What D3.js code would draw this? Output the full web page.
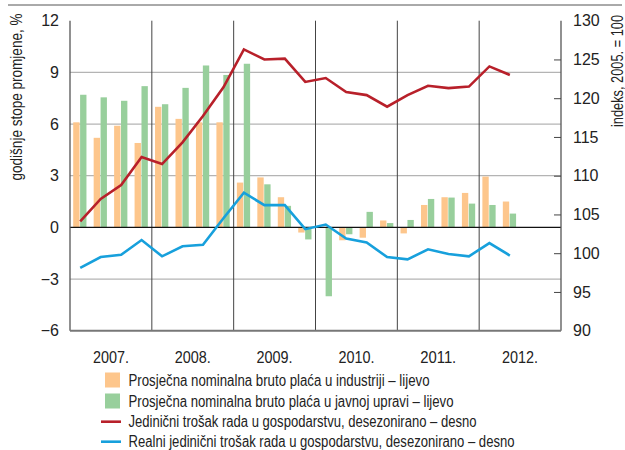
<!DOCTYPE html>
<html>
  <head>
    <meta charset="utf-8">
    <title>Plaće i jedinični trošak rada</title>
    <script src="https://d3js.org/d3.v7.min.js"></script>
    <style>
      body { margin: 0; background: #fff; }
      text { font-family: "Liberation Sans", Arial, sans-serif; fill: #222; }
    </style>
  </head>
  <body>
    <div id="chart"></div>
    <script>

      // data, quarterly 2007 Q1 - 2012 Q2
      var years = ["2007.", "2008.", "2009.", "2010.", "2011.", "2012."];
      var quarters = [];
      years.forEach(function(y) { for (var q = 1; q <= 4; q++) quarters.push(y + "Q" + q); });

      var industrija = [6.1, 5.2, 5.9, 4.9, 7.0, 6.3, 6.1, 6.1, 2.6, 2.9, 1.75, -0.3,
                        0, -0.75, -0.6, 0.4, -0.35, 1.3, 1.75, 2.0, 2.95, 1.5];
      var javnaUprava = [7.7, 7.55, 7.35, 8.2, 7.15, 8.1, 9.4, 8.85, 9.5, 2.5, 1.25, -0.7,
                         -4.0, -0.4, 0.9, 0.25, 0.43, 1.65, 1.73, 1.38, 1.3, 0.8];
      var jtr = [104.1, 107.0, 108.8, 112.4, 111.5, 114.3, 117.7, 121.4, 126.3, 125.0, 125.1, 122.1,
                 122.6, 120.8, 120.4, 118.9, 120.4, 121.6, 121.3, 121.5, 124.1, 123.0];
      var realniJtr = [98.1, 99.5, 99.8, 101.7, 99.6, 100.9, 101.1, 104.5, 107.8, 106.2, 106.2, 103.1,
                       103.7, 101.9, 101.4, 99.5, 99.2, 100.5, 99.9, 99.6, 101.3, 99.7];

      var leftTicks = [-6, -3, 0, 3, 6, 9, 12];
      var rightTicks = [90, 95, 100, 105, 110, 115, 120, 125, 130];

      var legendItems = [
        {label: "Prosječna nominalna bruto plaća u industriji – lijevo", type: "bar", color: "#fdc68c", w: 301},
        {label: "Prosječna nominalna bruto plaća u javnoj upravi – lijevo", type: "bar", color: "#98cf9c", w: 325},
        {label: "Jedinični trošak rada u gospodarstvu, desezonirano – desno", type: "line", color: "#b8202a", w: 348},
        {label: "Realni jedinični trošak rada u gospodarstvu, desezonirano – desno", type: "line", color: "#17a0dc", w: 386}
      ];

      var width = 625, height = 450;
      var margin = {top: 20.7, right: 64, bottom: 119.3, left: 70};

      var svg = d3.select("#chart")
        .append("svg")
          .attr("width", width)
          .attr("height", height);

      var x = d3.scaleBand()
        .domain(quarters)
        .range([margin.left, width - margin.right]);

      var xYear = d3.scaleBand()
        .domain(years)
        .range([margin.left, width - margin.right]);

      var sub = d3.scaleBand()
        .domain(["ind", "jav"])
        .range([3.2, x.bandwidth() - 4])
        .paddingInner(0.08);

      var y = d3.scaleLinear()
        .domain([-6, 12])
        .range([height - margin.bottom, margin.top]);

      var y2 = d3.scaleLinear()
        .domain([90, 130])
        .range([height - margin.bottom, margin.top]);

      // top rule
      svg.append("line")
        .attr("x1", 8).attr("x2", 622)
        .attr("y1", 5).attr("y2", 5)
        .attr("stroke", "#555").attr("stroke-width", 1);

      // horizontal grid
      svg.append("g")
        .selectAll("line")
        .data(leftTicks.filter(function(d) { return d !== 0 && d !== 12 && d !== -6; }))
        .enter().append("line")
          .attr("x1", margin.left).attr("x2", width - margin.right)
          .attr("y1", function(d) { return y(d); })
          .attr("y2", function(d) { return y(d); })
          .attr("stroke", "#b4b4b4").attr("stroke-width", 1.2);

      // year dividers
      svg.append("g")
        .selectAll("line")
        .data(years.slice(1))
        .enter().append("line")
          .attr("x1", function(d) { return xYear(d); })
          .attr("x2", function(d) { return xYear(d); })
          .attr("y1", y(12)).attr("y2", y(-6))
          .attr("stroke", "#444").attr("stroke-width", 1);

      // bars
      var bars = svg.append("g");
      bars.selectAll(".ind")
        .data(industrija)
        .enter().append("rect")
          .attr("class", "ind")
          .attr("x", function(d, i) { return x(quarters[i]) + sub("ind"); })
          .attr("width", sub.bandwidth())
          .attr("y", function(d) { return y(Math.max(0, d)); })
          .attr("height", function(d) { return Math.abs(y(d) - y(0)); })
          .attr("fill", legendItems[0].color);
      bars.selectAll(".jav")
        .data(javnaUprava)
        .enter().append("rect")
          .attr("class", "jav")
          .attr("x", function(d, i) { return x(quarters[i]) + sub("jav"); })
          .attr("width", sub.bandwidth())
          .attr("y", function(d) { return y(Math.max(0, d)); })
          .attr("height", function(d) { return Math.abs(y(d) - y(0)); })
          .attr("fill", legendItems[1].color);

      // zero line
      svg.append("line")
        .attr("x1", margin.left).attr("x2", width - margin.right)
        .attr("y1", y(0)).attr("y2", y(0))
        .attr("stroke", "#111").attr("stroke-width", 1.3);

      // lines
      var line = d3.line()
        .x(function(d, i) { return x(quarters[i]) + x.bandwidth() / 2; })
        .y(function(d) { return y2(d); });

      svg.append("path")
        .datum(jtr)
        .attr("fill", "none")
        .attr("stroke", legendItems[2].color)
        .attr("stroke-width", 2.6)
        .attr("d", line);

      svg.append("path")
        .datum(realniJtr)
        .attr("fill", "none")
        .attr("stroke", legendItems[3].color)
        .attr("stroke-width", 2.6)
        .attr("d", line);

      // frame: left, right, bottom
      var frame = svg.append("g").attr("stroke", "#555").attr("stroke-width", 1.3);
      frame.append("line")
        .attr("x1", margin.left).attr("x2", margin.left)
        .attr("y1", y(12)).attr("y2", y(-6));
      frame.append("line")
        .attr("x1", width - margin.right).attr("x2", width - margin.right)
        .attr("y1", y(12)).attr("y2", y(-6));
      frame.append("line")
        .attr("x1", margin.left).attr("x2", width - margin.right)
        .attr("y1", y(-6)).attr("y2", y(-6))
        .attr("stroke", "#777").attr("stroke-width", 2);

      // left axis
      var yAxis = svg.append("g")
        .attr("transform", "translate(" + margin.left + ",0)")
        .call(d3.axisLeft(y).tickValues(leftTicks).tickSize(0).tickPadding(11));
      yAxis.select(".domain").remove();
      yAxis.selectAll("text").style("font-size", "16px").style("font-family", "'Liberation Sans', Arial, sans-serif");

      // right axis
      var y2Axis = svg.append("g")
        .attr("transform", "translate(" + (width - margin.right) + ",0)")
        .call(d3.axisRight(y2).tickValues(rightTicks).tickSize(-7).tickPadding(12));
      y2Axis.select(".domain").remove();
      y2Axis.selectAll(".tick line")
        .attr("stroke", "#444")
        .attr("display", function(d) { return (d === 90 || d === 130) ? "none" : null; });
      y2Axis.selectAll("text").style("font-size", "16px").style("font-family", "'Liberation Sans', Arial, sans-serif");

      // year labels
      svg.append("g")
        .selectAll("text")
        .data(years)
        .enter().append("text")
          .attr("x", function(d) { return xYear(d) + xYear.bandwidth() / 2; })
          .attr("y", 357.5)
          .attr("dy", "0.35em")
          .attr("text-anchor", "middle")
          .attr("textLength", 36)
          .attr("lengthAdjust", "spacingAndGlyphs")
          .style("font-size", "16px")
          .text(function(d) { return d; });

      // axis titles
      svg.append("text")
        .attr("transform", "translate(16,97) rotate(-90)")
        .attr("text-anchor", "middle")
        .attr("dy", "0.35em")
        .attr("textLength", 167)
        .attr("lengthAdjust", "spacingAndGlyphs")
        .style("font-size", "16px")
        .text("godišnje stope promjene, %");

      svg.append("text")
        .attr("transform", "translate(617.5,71) rotate(-90)")
        .attr("text-anchor", "middle")
        .attr("dy", "0.35em")
        .attr("textLength", 112)
        .attr("lengthAdjust", "spacingAndGlyphs")
        .style("font-size", "16px")
        .text("indeks, 2005. = 100");

      // legend
      var legendY = [380, 401, 421.7, 441.7];
      var legend = svg.append("g")
        .selectAll("g")
        .data(legendItems)
        .enter().append("g")
          .attr("transform", function(d, i) { return "translate(0," + legendY[i] + ")"; });

      legend.filter(function(d) { return d.type === "bar"; })
        .append("rect")
          .attr("x", 105).attr("y", -7.5)
          .attr("width", 15).attr("height", 15)
          .attr("fill", function(d) { return d.color; });

      legend.filter(function(d) { return d.type === "line"; })
        .append("line")
          .attr("x1", 101).attr("x2", 121)
          .attr("stroke", function(d) { return d.color; })
          .attr("stroke-width", 2.6);

      legend.append("text")
        .attr("x", 128.5)
        .attr("dy", "0.35em")
        .attr("textLength", function(d) { return d.w; })
        .attr("lengthAdjust", "spacingAndGlyphs")
        .style("font-size", "16px")
        .text(function(d) { return d.label; });

    </script>
  </body>
</html>
